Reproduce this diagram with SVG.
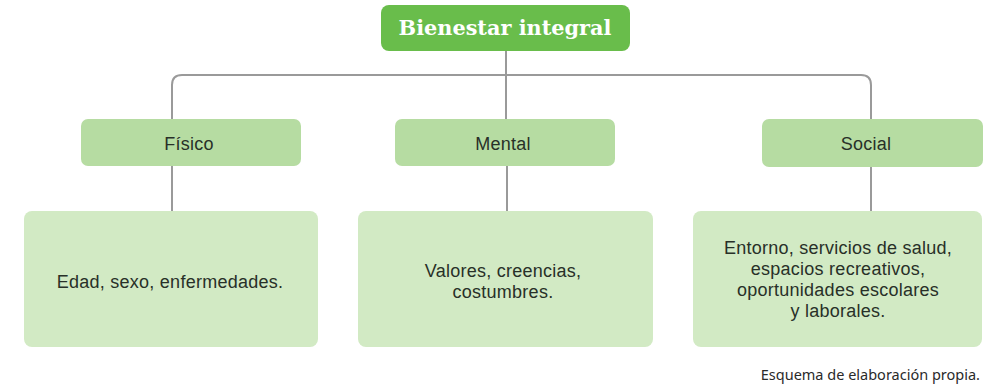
<svg xmlns="http://www.w3.org/2000/svg" width="983" height="385" viewBox="0 0 983 385">
  <style>
    .lbl { font-family: "Liberation Sans", Arial, sans-serif; fill: #283028; text-anchor: middle; letter-spacing: 0.25px; }
    .cat { font-size: 18px; }
    .desc { font-size: 18px; }
    .conn { fill: none; stroke: #9a9a9a; stroke-width: 2; }
    .small { fill: #b6dca2; }
    .big { fill: #d2eac4; }
  </style>
  <rect width="983" height="385" fill="#ffffff"/>
  <g id="connectors">
    <path class="conn" d="M506 51 V119"/>
    <path class="conn" d="M172 119 V85 Q172 75 182 75 H861 Q871 75 871 85 V119"/>
    <path class="conn" d="M172 166 V211"/>
    <path class="conn" d="M507 166 V211"/>
    <path class="conn" d="M871 167 V211"/>
  </g>
  <g id="root">
    <rect x="381" y="5" width="249" height="46" rx="8" fill="#69bd4b"/>
    <text x="505" y="35" font-family="'DejaVu Serif', 'Liberation Serif', serif" font-weight="bold" font-size="20.8" fill="#ffffff" text-anchor="middle">Bienestar integral</text>
  </g>
  <g id="fisico">
    <rect class="small" x="81" y="119" width="220" height="47" rx="7"/>
    <text class="lbl cat" x="189" y="150">Físico</text>
  </g>
  <g id="mental">
    <rect class="small" x="395" y="119" width="220" height="47" rx="7"/>
    <text class="lbl cat" x="503" y="150">Mental</text>
  </g>
  <g id="social">
    <rect class="small" x="762" y="119" width="221" height="48" rx="7"/>
    <text class="lbl cat" x="866" y="150">Social</text>
  </g>
  <g id="fisico-desc">
    <rect class="big" x="24" y="211" width="294" height="136" rx="8"/>
    <text class="lbl desc" x="170" y="288">Edad, sexo, enfermedades.</text>
  </g>
  <g id="mental-desc">
    <rect class="big" x="358" y="211" width="295" height="136" rx="8"/>
    <text class="lbl desc" x="503" y="277">Valores, creencias,</text>
    <text class="lbl desc" x="503" y="298">costumbres.</text>
  </g>
  <g id="social-desc">
    <rect class="big" x="693" y="211" width="289" height="136" rx="8"/>
    <text class="lbl desc" x="838" y="254">Entorno, servicios de salud,</text>
    <text class="lbl desc" x="838" y="275">espacios recreativos,</text>
    <text class="lbl desc" x="838" y="296">oportunidades escolares</text>
    <text class="lbl desc" x="838" y="317">y laborales.</text>
  </g>
  <text x="980" y="380" font-family="'Noto Sans', 'Open Sans', sans-serif" font-size="14.5" fill="#2a2a2a" text-anchor="end">Esquema de elaboración propia.</text>
</svg>
